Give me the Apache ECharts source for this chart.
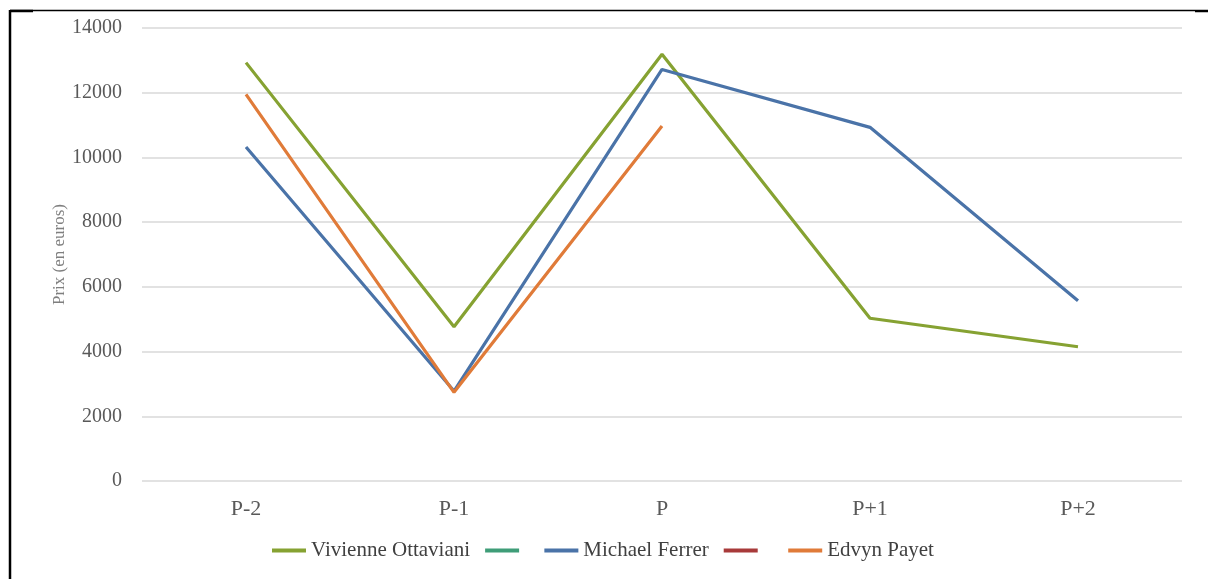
<!DOCTYPE html>
<html>
<head>
<meta charset="utf-8">
<script src="https://cdn.jsdelivr.net/npm/echarts@6/dist/echarts.min.js"></script>
<style>
  html, body { margin: 0; padding: 0; background: #fff; }
  #chart { width: 1208px; height: 579px; }
</style>
</head>
<body>
<div id="chart"></div>
<script>
// Données
const periodes = ['P-2', 'P-1', 'P', 'P+1', 'P+2']
const vivienne = [12930, 4770, 13190, 5030, 4150]
const michael = [10320, 2780, 12720, 10930, 5570]
const edvyn = [11950, 2740, 10970, null, null]
const vide = [null, null, null, null, null]

const police = 'Liberation Serif, DejaVu Serif, serif'

const chart = echarts.init(document.getElementById('chart'))

const ligne = (name, data, color) => ({
  name,
  type: 'line',
  data,
  symbol: 'none',
  lineStyle: { width: 3.2, color },
  itemStyle: { color },
  connectNulls: false
})

chart.setOption({
  animation: false,
  textStyle: { fontFamily: police },
  grid: { left: 142, right: 26, top: 28, bottom: 98 },
  legend: {
    bottom: 13,
    left: 267,
    itemWidth: 34,
    itemHeight: 4,
    itemGap: 15,
    icon: 'rect',
    textStyle: { fontSize: 21, color: '#404040', fontFamily: police },
    data: ['Vivienne Ottaviani', ' ', 'Michael Ferrer', '  ', 'Edvyn Payet']
  },
  xAxis: {
    type: 'category',
    data: periodes,
    boundaryGap: true,
    axisLine: { show: false },
    axisTick: { show: false },
    axisLabel: { fontSize: 22, color: '#595959', margin: 17, fontFamily: police }
  },
  yAxis: {
    type: 'value',
    min: 0,
    max: 14000,
    interval: 2000,
    name: 'Prix (en euros)',
    nameLocation: 'middle',
    nameGap: 74,
    nameMoveOverlap: false,
    nameTextStyle: { fontSize: 17, color: '#7f7f7f', fontFamily: police },
    axisLine: { show: false },
    axisTick: { show: false },
    axisLabel: { fontSize: 20, color: '#595959', margin: 20, fontFamily: police, formatter: v => String(v) },
    splitLine: { lineStyle: { color: '#d9d9d9', width: 1.5 } }
  },
  series: [
    ligne('Vivienne Ottaviani', vivienne, '#86a232'),
    ligne(' ', vide, '#3f9d78'),
    ligne('Michael Ferrer', michael, '#4a73a8'),
    ligne('  ', vide, '#a83a3a'),
    ligne('Edvyn Payet', edvyn, '#e07b39')
  ],
  graphic: [
    { type: 'line', shape: { x1: 10, y1: 10.5, x2: 1195, y2: 10.5 }, style: { stroke: '#000', lineWidth: 1.5 } },
    { type: 'line', shape: { x1: 10, y1: 11, x2: 33, y2: 11 }, style: { stroke: '#000', lineWidth: 2.5 } },
    { type: 'line', shape: { x1: 1195, y1: 11, x2: 1208, y2: 11 }, style: { stroke: '#000', lineWidth: 2.5 } },
    { type: 'line', shape: { x1: 10, y1: 10, x2: 10, y2: 579 }, style: { stroke: '#000', lineWidth: 2.5 } }
  ]
})
</script>
</body>
</html>
